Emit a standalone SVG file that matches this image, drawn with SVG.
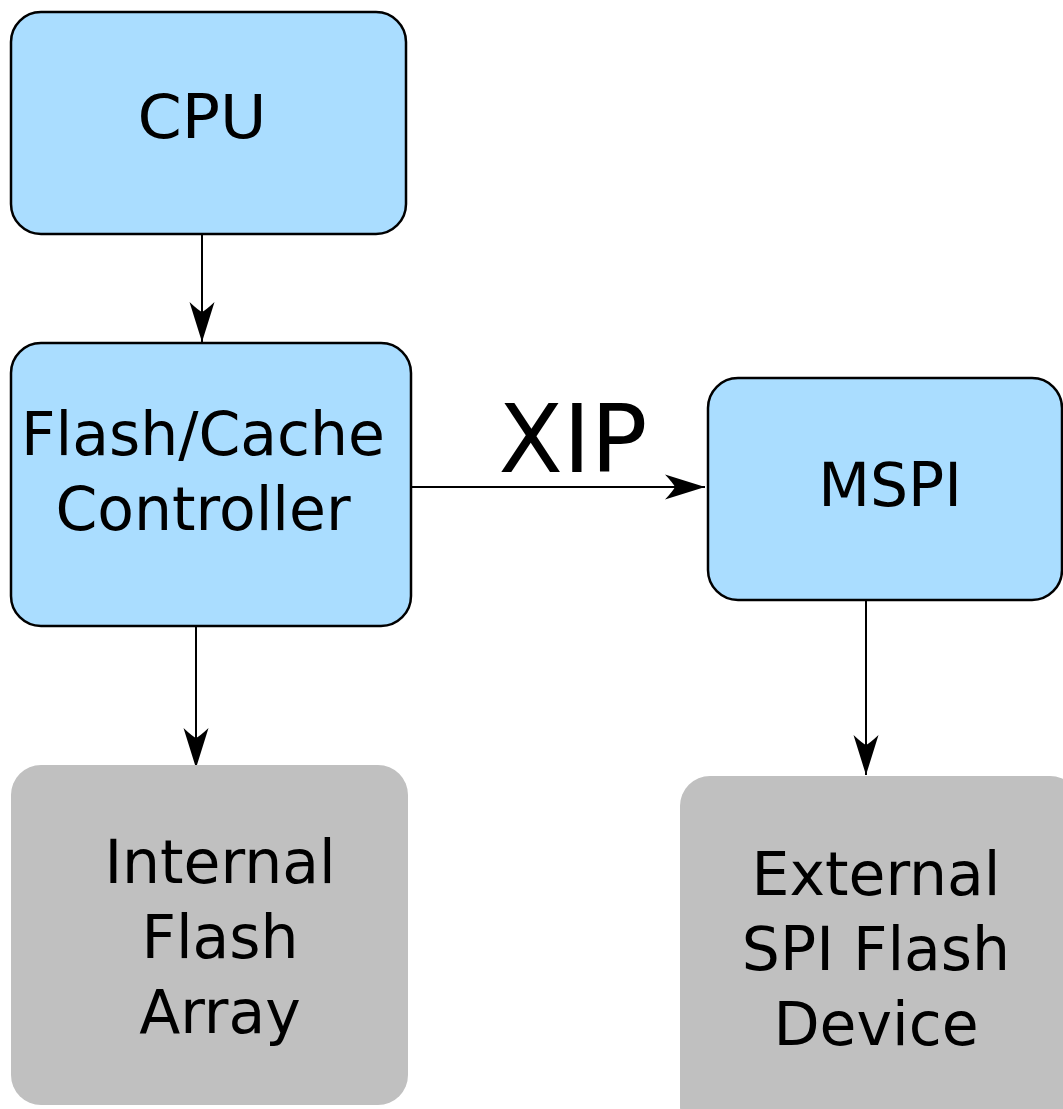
<svg xmlns="http://www.w3.org/2000/svg" width="1063" height="1109" viewBox="0 0 1063 1109">
<defs>
<style>
.blue{fill:#aaddff;stroke:#000;stroke-width:2.5}
.gray{fill:#c0c0c0;stroke:none}
.t{font-family:"DejaVu Sans",sans-serif;font-size:60px;fill:#000;text-anchor:middle}
.xip{font-family:"DejaVu Sans",sans-serif;font-size:94px;fill:#000;text-anchor:middle}
.c{stroke:#000;stroke-width:2;fill:none;marker-end:url(#ah)}
</style>
<marker id="ah" markerUnits="userSpaceOnUse" viewBox="-41 -14 42 28" refX="0" refY="0" markerWidth="42" markerHeight="28" orient="auto">
<path d="M0,0 L-40,-12.5 Q-32,-4 -30,0 Q-32,4 -40,12.5 Z" fill="#000"/>
</marker>
</defs>
<rect width="1063" height="1109" fill="#fff"/>
<g id="connectors">
<line class="c" x1="202" y1="234" x2="202" y2="342"/>
<line class="c" x1="410" y1="487" x2="705" y2="487"/>
<line class="c" x1="196" y1="626" x2="196" y2="768"/>
<line class="c" x1="866" y1="600" x2="866" y2="775"/>
<text class="xip" x="573" y="472">XIP</text>
</g>
<g id="cpu">
<rect class="blue" x="11" y="12" width="395" height="222" rx="30" ry="30"/>
<text class="t" x="202" y="138" textLength="129" lengthAdjust="spacingAndGlyphs">CPU</text>
</g>
<g id="flash-cache-controller">
<rect class="blue" x="11" y="343" width="400" height="283" rx="30" ry="30"/>
<text class="t" x="203" y="455">Flash/Cache</text>
<text class="t" x="203" y="530">Controller</text>
</g>
<g id="mspi">
<rect class="blue" x="708" y="378" width="354" height="222" rx="30" ry="30"/>
<text class="t" x="890" y="506">MSPI</text>
</g>
<g id="internal-flash-array">
<rect class="gray" x="11" y="765" width="397" height="340" rx="30" ry="30"/>
<text class="t" x="220" y="883">Internal</text>
<text class="t" x="220" y="958">Flash</text>
<text class="t" x="220" y="1033">Array</text>
</g>
<g id="external-spi-flash-device">
<rect class="gray" x="680" y="776" width="400" height="360" rx="30" ry="30"/>
<text class="t" x="876" y="895">External</text>
<text class="t" x="876" y="970">SPI Flash</text>
<text class="t" x="876" y="1045">Device</text>
</g>
</svg>
